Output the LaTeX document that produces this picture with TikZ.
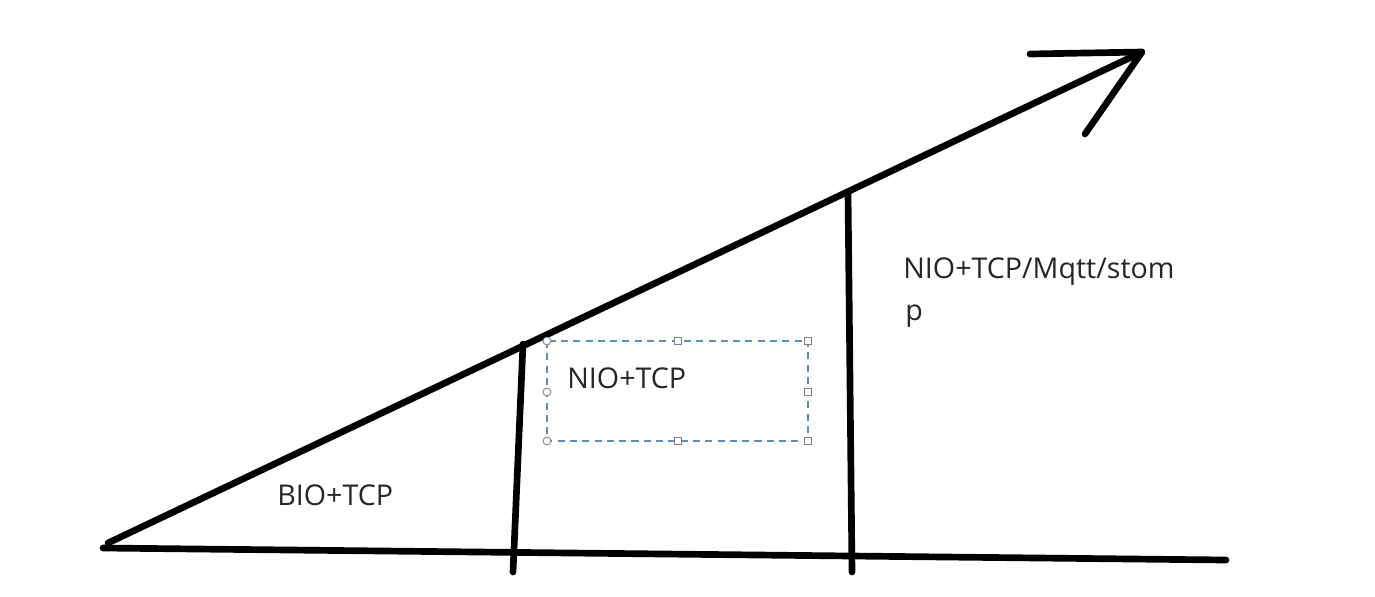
\documentclass[tikz,border=0pt]{standalone}
\usepackage{fontspec}
\setmainfont{Open Sans}
\definecolor{selblue}{RGB}{95,140,185}
\begin{document}
\begin{tikzpicture}[x=0.02cm,y=-0.02cm,
  stroke/.style={line width=3.8pt,line cap=round,line join=round,black},
  lbl/.style={inner sep=0pt,anchor=base west,font=\fontsize{16.3}{20}\selectfont,text=black!85},
  selbox/.style={draw=selblue,line width=0.8pt,dash pattern=on 4pt off 3pt},
  handle/.style={draw=gray,fill=white,line width=0.5pt,minimum size=4pt,inner sep=0pt,rectangle},
  hcirc/.style={draw=gray,fill=white,line width=0.5pt,minimum size=4.5pt,inner sep=0pt,circle}]
\useasboundingbox (0,0) rectangle (1375,596);
% key coordinates
\coordinate (o) at (108,543);
\coordinate (tip) at (1142,52);
\coordinate (h1) at (1030,54);
\coordinate (h2) at (1085,134);
\coordinate (b0) at (103,548);
\coordinate (b1) at (1226,560);
\coordinate (v1t) at (523,344);
\coordinate (v1b) at (513,572);
\coordinate (v2t) at (848,193);
\coordinate (v2b) at (852,572);
% axes
\draw[stroke] (b0) -- (b1);
\draw[stroke] (o) -- (tip);
\draw[stroke] (h1) -- (tip) -- (h2);
\draw[stroke] (v1t) -- (v1b);
\draw[stroke] (v2t) -- (v2b);
% selection box
\draw[selbox] (547,341) rectangle (808,441);
\foreach \p in {(678,341),(808,341),(808,392),(808,441),(678,441)} \node[handle] at \p {};
\foreach \p in {(547,341),(547,392),(547,441)} \node[hcirc] at \p {};
% labels
\node[lbl] (bio) at (277,505) {BIO+TCP};
\node[lbl] (nio) at (567,388) {NIO+TCP};
\node[lbl] (mq) at (903,278) {NIO+TCP/Mqtt/stom};
\node[lbl] (p) at (905,320) {p};
\end{tikzpicture}
\end{document}
